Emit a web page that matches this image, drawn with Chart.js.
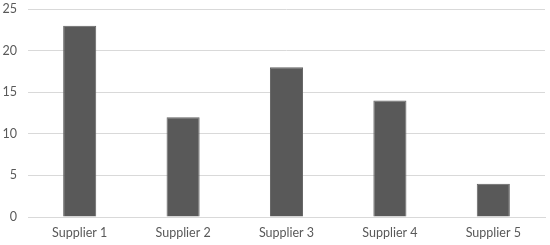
<!DOCTYPE html>
<html>
<head>
<meta charset="utf-8">
<script src="https://cdn.jsdelivr.net/npm/chart.js@4/dist/chart.umd.min.js"></script>
<style>
html,body{margin:0;padding:0;background:#fff;}
#wrap{width:550px;height:245px;position:relative;}
</style>
</head>
<body>
<div id="wrap"><canvas id="c" width="550" height="245"></canvas></div>
<script>
const categories = ["Supplier 1", "Supplier 2", "Supplier 3", "Supplier 4", "Supplier 5"];
const values = [23, 12, 18, 14, 4];
const yTicks = [0, 5, 10, 15, 20, 25];

new Chart(document.getElementById('c'), {
  type: 'bar',
  data: {
    labels: categories,
    datasets: [{
      data: values,
      backgroundColor: '#595959',
      borderColor: '#636363',
      borderWidth: 1,
      categoryPercentage: 0.32,
      barPercentage: 1.0
    }]
  },
  options: {
    responsive: false,
    animation: false,
    layout: { padding: { top: 0, right: 5, left: 0, bottom: 0 } },
    plugins: { legend: { display: false }, tooltip: { enabled: false } },
    scales: {
      x: {
        grid: { display: false, drawTicks: false },
        border: { display: true, color: '#d9d9d9', width: 1 },
        ticks: { color: '#595959', font: { family: 'Lato', size: 12.5 }, padding: 8 },
        afterFit: (axis) => { axis.height = 28; }
      },
      y: {
        min: 0, max: 25,
        afterBuildTicks: (axis) => { axis.ticks = yTicks.map(v => ({ value: v })); },
        grid: { color: '#d9d9d9', drawTicks: false },
        border: { display: false },
        ticks: { color: '#595959', font: { family: 'Lato', size: 12.5 }, padding: 11 },
        afterFit: (axis) => { axis.width = 28; axis.paddingTop = 9; }
      }
    }
  }
});
</script>
</body>
</html>
